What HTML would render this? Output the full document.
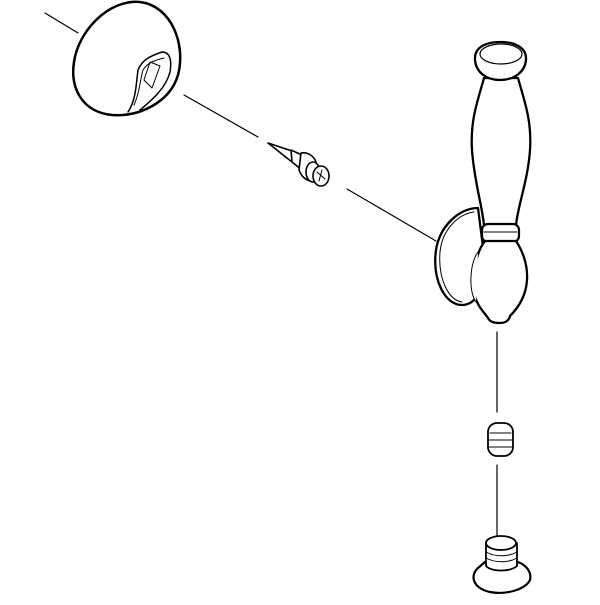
<!DOCTYPE html>
<html><head><style>html,body{margin:0;padding:0;background:#fff}</style></head>
<body>
<svg width="600" height="600" viewBox="0 0 600 600" xmlns="http://www.w3.org/2000/svg" fill="#fff" stroke="#000" stroke-linejoin="round" stroke-linecap="round">
<g stroke-width="1.2">
<line x1="45" y1="13" x2="78" y2="33"/>
<line x1="184" y1="95" x2="258" y2="137"/>
<line x1="347" y1="189" x2="436" y2="241"/>
<line x1="497" y1="332" x2="497" y2="412"/>
<line x1="497" y1="465" x2="497" y2="540"/>
</g>
<path stroke-width="2.5" d="M140 2 C172 6 186 45 178 75 C170 102 140 117 112 115 C82 112 70 88 74 62 C78 32 108 -1 140 2 Z"/>
<path stroke-width="1.5" d="M128 112 C136 100 136 85 138 70 C142 60 150 56 162 52 C170 52 172 60 170 72 C166 88 152 100 140 110"/>
<path stroke-width="1" d="M134 105 C140 92 140 80 143 70 C148 62 156 60 164 58 M144 80 L150 62 L160 66 L152 88 Z"/>
<g stroke-width="1.6">
<path d="M268 143 L292 151 L292 162 Z"/>
<path d="M291 150 L302 155 L302 170 L292 162 Z"/>
<path d="M301 153 C308 152 314 156 316 162 L312 181 C306 181 301 176 299 170 Z"/>
<ellipse cx="313" cy="172" rx="7" ry="10"/>
<ellipse cx="321" cy="176" rx="8" ry="10"/>
<path stroke-width="1" d="M317 172 L325 179 M322 170 L319 181"/>
</g>
<path stroke-width="2.3" d="M478 208 C460 208 440 225 436 250 C432 280 445 305 462 305 C475 305 484 290 486 270 Z"/>
<path stroke-width="1" d="M474 212 C458 214 442 230 440 252 C438 278 448 300 462 302"/>
<path stroke-width="2.3" d="M484 78 C478 100 470 120 472 150 C474 180 482 205 484 225 L516 225 C518 205 528 180 530 150 C532 120 524 100 518 78 Z"/>
<path stroke-width="2.3" d="M475 60 C474 46 488 42 500 42 C512 42 527 46 526 60 C525 72 514 80 500 80 C486 80 476 72 475 60 Z"/>
<ellipse cx="501" cy="54" rx="21" ry="10" stroke-width="1.2"/>
<rect x="482" y="224" width="37" height="18" rx="6" stroke-width="2.2"/>
<line x1="484" y1="232" x2="517" y2="232" stroke-width="1"/>
<path stroke-width="2.3" d="M485 241 C476 252 472 275 474 292 C476 305 484 312 488 318 C490 322 494 323 500 323 C506 323 509 320 510 316 C518 308 526 296 527 280 C528 264 522 250 516 241 Z"/>
<path stroke-width="1" d="M478 252 C470 262 468 290 476 302"/>
<rect x="488" y="423" width="25" height="33" rx="9" stroke-width="1.8"/>
<g stroke-width="1"><line x1="490" y1="433" x2="511" y2="433"/><line x1="489" y1="440" x2="512" y2="440"/><line x1="489" y1="447" x2="512" y2="447"/></g>
<path stroke-width="2.2" d="M478 568 C470 575 472 588 490 592 C505 595 525 590 530 580 C532 572 526 565 518 562 L485 562 Z"/>
<path stroke-width="1.8" d="M486 543 L486 566 C492 572 510 572 517 566 L517 543"/>
<ellipse cx="501" cy="543" rx="15" ry="7" stroke-width="1.8"/>
<g stroke-width="1" fill="none"><path d="M486 552 C495 557 508 557 517 552"/><path d="M486 558 C495 563 508 563 517 558"/></g>
</svg>
</body></html>
